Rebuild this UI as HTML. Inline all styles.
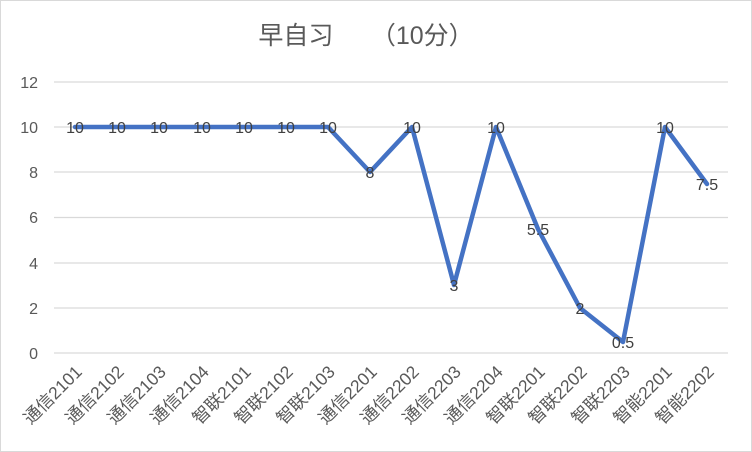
<!DOCTYPE html>
<html><head><meta charset="utf-8"><style>
html,body{margin:0;padding:0;background:#fff}
svg{display:block;font-family:"Liberation Sans","Noto Sans CJK SC",sans-serif}
</style></head><body>
<svg width="752" height="452" viewBox="0 0 752 452">
<rect x="0.5" y="0.5" width="751" height="451" fill="#fff" stroke="#d9d9d9"/>
<text x="366" y="44" text-anchor="middle" font-size="25" fill="#595959">早自习　　（10分）</text>
<g stroke="#d9d9d9" stroke-width="1.3">
<line x1="54" x2="728" y1="82" y2="82"/><line x1="54" x2="728" y1="127" y2="127"/>
<line x1="54" x2="728" y1="172" y2="172"/><line x1="54" x2="728" y1="217.5" y2="217.5"/>
<line x1="54" x2="728" y1="263" y2="263"/><line x1="54" x2="728" y1="308" y2="308"/>
<line x1="54" x2="728" y1="353" y2="353"/>
</g>
<g font-size="16" fill="#595959" text-anchor="end">
<text x="38" y="88">12</text><text x="38" y="133">10</text><text x="38" y="178">8</text>
<text x="38" y="223">6</text><text x="38" y="269">4</text><text x="38" y="314">2</text><text x="38" y="359">0</text>
</g>
<polyline fill="none" stroke="#4472C4" stroke-width="4.5" stroke-linejoin="round" stroke-linecap="round"
points="75,127 117,127 159,127 202,127 244,127 286,127 328,127 370,172 412,127 454,285 496,127 538,229 580,308 623,342 665,127 707,184"/>
<g font-size="16" fill="#404040" text-anchor="middle">
<text x="75" y="133">10</text><text x="117" y="133">10</text><text x="159" y="133">10</text>
<text x="202" y="133">10</text><text x="244" y="133">10</text><text x="286" y="133">10</text>
<text x="328" y="133">10</text><text x="370" y="178">8</text><text x="412" y="133">10</text>
<text x="454" y="291">3</text><text x="496" y="133">10</text><text x="538" y="235">5.5</text>
<text x="580" y="314">2</text><text x="623" y="348">0.5</text><text x="665" y="133">10</text>
<text x="707" y="190">7.5</text>
</g>
<g font-size="17.5" fill="#595959" text-anchor="end">
<text transform="translate(83,373) rotate(-45)">通信2101</text>
<text transform="translate(125,373) rotate(-45)">通信2102</text>
<text transform="translate(167,373) rotate(-45)">通信2103</text>
<text transform="translate(210,373) rotate(-45)">通信2104</text>
<text transform="translate(252,373) rotate(-45)">智联2101</text>
<text transform="translate(294,373) rotate(-45)">智联2102</text>
<text transform="translate(336,373) rotate(-45)">智联2103</text>
<text transform="translate(378,373) rotate(-45)">通信2201</text>
<text transform="translate(420,373) rotate(-45)">通信2202</text>
<text transform="translate(462,373) rotate(-45)">通信2203</text>
<text transform="translate(504,373) rotate(-45)">通信2204</text>
<text transform="translate(546,373) rotate(-45)">智联2201</text>
<text transform="translate(588,373) rotate(-45)">智联2202</text>
<text transform="translate(631,373) rotate(-45)">智联2203</text>
<text transform="translate(673,373) rotate(-45)">智能2201</text>
<text transform="translate(715,373) rotate(-45)">智能2202</text>
</g>
</svg>
</body></html>
